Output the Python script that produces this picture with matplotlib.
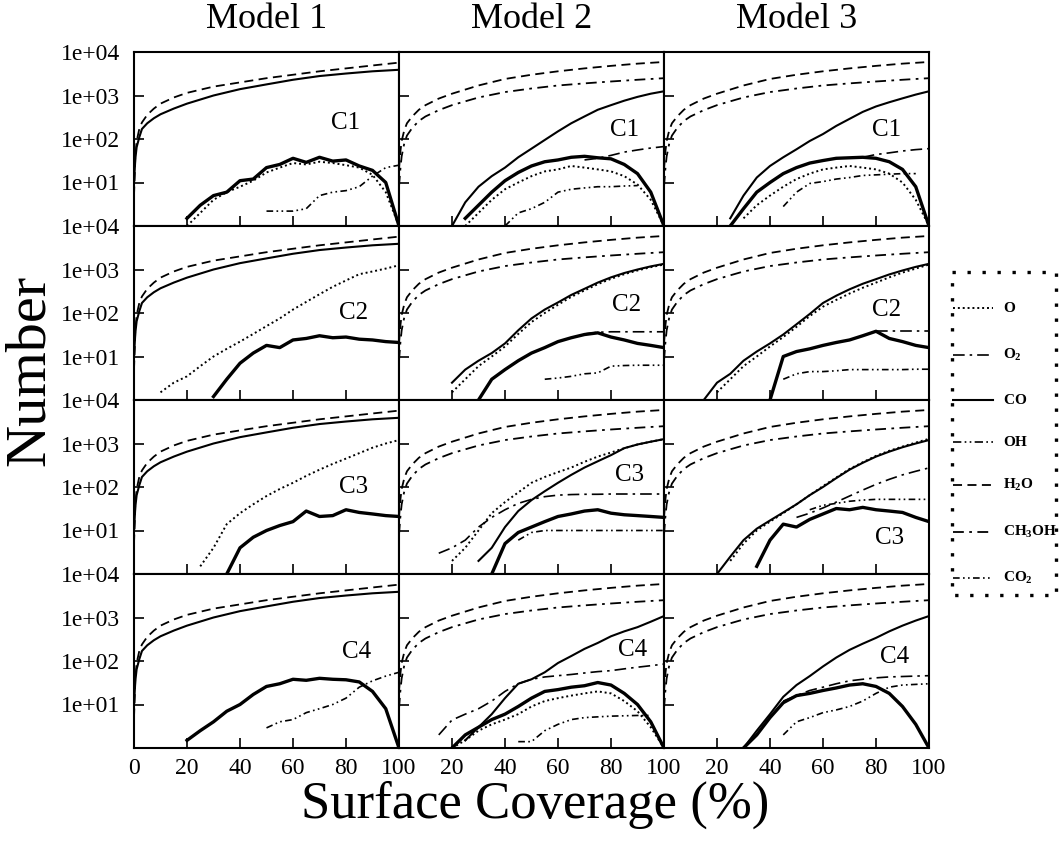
import numpy as np
import matplotlib
matplotlib.use('Agg')
import matplotlib.pyplot as plt

plt.rcParams['font.family'] = ['Liberation Serif', 'DejaVu Serif']
plt.rcParams['mathtext.fontset'] = 'custom'
plt.rcParams['mathtext.rm'] = 'Liberation Serif'
plt.rcParams['mathtext.bf'] = 'Liberation Serif:bold'

# ============================================
# DATA
# ============================================
n = np.nan
MODELS = ['Model 1', 'Model 2', 'Model 3']
CASES = ['C1', 'C2', 'C3', 'C4']
SPECIES = ['O', 'O2', 'CO', 'OH', 'H2O', 'CH3OH', 'CO2']
SPECIES_LABELS = [r'$\mathbf{O}$', r'$\mathbf{O_2}$', r'$\mathbf{CO}$', r'$\mathbf{OH}$',
                  r'$\mathbf{H_2O}$', r'$\mathbf{CH_3OH}$', r'$\mathbf{CO_2}$']
X_TICKS = [0, 20, 40, 60, 80, 100]
Y_TICKS = [1e1, 1e2, 1e3, 1e4]
Y_TICK_LABELS = ['1e+01', '1e+02', '1e+03', '1e+04']

# smooth grid (fast-rising curves)
XS = [0, 0.5, 1, 2, 3, 5, 7.5, 10, 15, 20, 30, 40, 50, 60, 70, 80, 90, 100]
M1_H2O = [5, 40, 90, 170, 240, 360, 500, 650, 900, 1150, 1600, 2000, 2500, 3000, 3600, 4200, 4900, 5700]
M1_CO = [10, 35, 65, 110, 170, 230, 300, 370, 500, 650, 1000, 1400, 1800, 2300, 2800, 3200, 3600, 3900]
M23_H2O = [20, 50, 90, 160, 230, 330, 470, 600, 850, 1100, 1700, 2400, 3000, 3600, 4200, 4800, 5400, 5900]
M23_CH3OH = [8, 20, 40, 80, 120, 180, 260, 330, 460, 600, 900, 1200, 1450, 1700, 1900, 2100, 2300, 2500]

# coarse grid (every 5 %)
NX = [0, 5, 10, 15, 20, 25, 30, 35, 40, 45, 50, 55, 60, 65, 70, 75, 80, 85, 90, 95, 100]

M1C1_OH = [n, n, n, n, 1.5, 3, 5, 6, 11, 12, 22, 26, 36, 29, 38, 31, 33, 24, 19, 10, 1]
M1C1_O = [n, n, n, n, 1, 2, 4, 6, 8, 11, 17, 22, 28, 26, 30, 28, 25, 22, 15, 6, 1]
M1C1_CO2 = [n] * 10 + [2.2, 2.2, 2.2, 2.5, 5, 6, 6.5, 8, 14, 22, 25]

M1C2_O = [n, n, 1.5, 2.5, 3.5, 6, 10, 15, 22, 33, 50, 75, 120, 180, 270, 400, 560, 780, 900, 1050, 1250]
M1C2_OH = [n] * 6 + [1.2, 3, 7, 12, 18, 16, 24, 26, 30, 27, 28, 25, 24, 22, 21]

M1C3_O = [n] * 5 + [1.5, 4, 14, 25, 40, 62, 90, 125, 180, 250, 340, 450, 600, 800, 1000, 1200]
M1C3_OH = [n] * 7 + [1, 4, 7, 10, 13, 16, 28, 21, 22, 30, 26, 24, 22, 21]

M1C4_OH = [n] * 4 + [1.5, 2.5, 4, 7, 10, 17, 26, 30, 38, 36, 40, 38, 37, 33, 20, 8, 1]
M1C4_CO2 = [n] * 10 + [2.9, 4, 4.5, 6.5, 8, 10, 14, 25, 35, 45, 55]

M2C1_CO = [n] * 4 + [1, 3.5, 8, 14, 22, 38, 60, 95, 150, 230, 330, 470, 600, 760, 930, 1100, 1250]
M2C1_OH = [n] * 5 + [1.5, 3, 6, 11, 17, 24, 30, 33, 38, 40, 37, 35, 26, 16, 6, 1]
M2C1_O = [n] * 5 + [1, 2, 4, 7, 10, 14, 18, 20, 24, 22, 20, 18, 14, 9, 4, 1]
M2C1_O2 = [n] * 14 + [33, 36, 42, 50, 56, 62, 67]
M2C1_CO2 = [n] * 8 + [1, 2, 2.5, 3.5, 6, 7, 7.5, 8, 8, 8.3, 8.5, n, n]

M2C2_CO = [n] * 4 + [2.5, 5, 8, 12, 20, 40, 75, 120, 175, 260, 360, 500, 660, 830, 1000, 1180, 1350]
M2C2_O = [n] * 4 + [1.5, 3, 6, 10, 17, 33, 62, 100, 155, 235, 330, 460, 610, 780, 950, 1130, 1300]
M2C2_OH = [n] * 6 + [1, 3, 5, 8, 12, 16, 22, 27, 32, 35, 28, 24, 20, 18, 16]
M2C2_O2 = [n] * 14 + [33, 36, 37, 37, 37, 37, 37]
M2C2_CO2 = [n] * 11 + [3, 3.2, 3.5, 4, 4.2, 6, 6.2, 6.3, 6.3, 6.3]

M2C3_CO = [n] * 6 + [2, 4, 12, 28, 50, 80, 125, 190, 280, 390, 540, 780, 950, 1100, 1260]
M2C3_O = [n] * 4 + [2, 4, 10, 25, 45, 75, 125, 170, 220, 280, 380, 500, 620, 780, 950, 1100, 1260]
M2C3_O2 = [n] * 3 + [3, 4, 6, 12, 20, 30, 42, 52, 60, 65, 67, 68, 68, 69, 69, 69, 69, 69]
M2C3_OH = [n] * 7 + [1, 5, 9, 12, 16, 21, 24, 28, 30, 25, 23, 22, 21, 20]
M2C3_CO2 = [n] * 9 + [6, 9, 10, 10, 10, 10, 10, 10, 10, 10, 10, 10]

M2C4_CO = [n] * 5 + [1.5, 3, 6, 14, 30, 38, 55, 90, 130, 190, 260, 370, 480, 600, 800, 1080]
M2C4_O2 = [n] * 3 + [2, 4.4, 6, 8, 12, 20, 30, 38, 43, 46, 49, 53, 57, 60, 66, 72, 78, 85]
M2C4_OH = [n] * 4 + [1, 2, 3, 4.5, 6, 9, 14, 20, 22, 25, 27, 32, 28, 18, 10, 4, 1]
M2C4_O = [n] * 4 + [1, 1.5, 2.5, 3.5, 4.5, 6, 9, 12, 14, 16, 18, 20, 18, 12, 7, 3, 1]
M2C4_CO2 = [n] * 9 + [1.4, 1.4, 2.5, 3.5, 4.5, 5, 5.2, 5.4, 5.5, 5.6, 5.6, n]

M3C1_CO = [n] * 5 + [1.5, 5, 13, 24, 38, 58, 90, 130, 200, 290, 420, 560, 700, 860, 1050, 1250]
M3C1_OH = [n] * 5 + [1, 2.5, 6, 10, 16, 22, 28, 32, 36, 37, 38, 36, 30, 20, 8, 1]
M3C1_O = [n] * 6 + [1.5, 3, 5, 8, 12, 16, 20, 22, 24, 22, 20, 16, 10, 4, 1]
M3C1_O2 = [n] * 15 + [38, 44, 48, 53, 57, 60]
M3C1_CO2 = [n] * 9 + [2.8, 6, 9.5, 10.5, 12, 13, 14.5, 15, 15.5, 16, 16, n]

M3C2_CO = [n] * 3 + [1, 2.5, 4, 8, 13, 20, 32, 55, 95, 170, 250, 350, 470, 600, 770, 950, 1150, 1350]
M3C2_O = [n] * 4 + [1.5, 3, 6, 10, 17, 28, 48, 85, 140, 200, 280, 380, 500, 660, 850, 1050, 1300]
M3C2_OH = [n] * 8 + [1, 10, 13, 15, 18, 21, 24, 30, 38, 26, 22, 18, 16]
M3C2_O2 = [n] * 16 + [38, 38, 38, 38, 38]
M3C2_CO2 = [n] * 9 + [3, 4, 4.5, 4.5, 4.7, 5, 5, 5, 5, 5, 5.1, 5.1]

M3C3_CO = [n] * 4 + [1, 2.5, 6, 11, 17, 26, 40, 65, 100, 160, 250, 360, 500, 650, 820, 1000, 1200]
M3C3_O = [n] * 5 + [2, 5, 10, 16, 25, 40, 65, 105, 165, 260, 370, 520, 680, 850, 1050, 1280]
M3C3_O2 = [n] * 10 + [20, 25, 33, 45, 62, 85, 115, 150, 190, 230, 275]
M3C3_CO2 = [n] * 11 + [30, 38, 42, 47, 50, 52, 52, 52, 52, 52]
M3C3_OH = [n] * 7 + [1.5, 6, 14, 12, 18, 24, 32, 30, 34, 30, 28, 26, 20, 16]

M3C4_CO = [n] * 6 + [1, 2.5, 6, 15, 28, 45, 75, 120, 180, 250, 340, 480, 650, 850, 1080]
M3C4_O2 = [n] * 9 + [12, 16, 21, 25, 30, 35, 38, 41, 43, 44, 45, 46]
M3C4_CO2 = [n] * 9 + [2, 4, 5, 6.5, 7.5, 9, 12, 18, 25, 28, 29, 30]
M3C4_OH = [n] * 6 + [1, 2, 5, 11, 16, 18, 21, 24, 28, 30, 26, 18, 9, 3.5, 1]

# ============================================
# which curves go in which panel
# ============================================
PANELS = {
    (0, 0): [('H2O', XS, M1_H2O), ('CO', XS, M1_CO), ('CO2', NX, M1C1_CO2), ('O', NX, M1C1_O), ('OH', NX, M1C1_OH)],
    (0, 1): [('H2O', XS, M1_H2O), ('CO', XS, M1_CO), ('O', NX, M1C2_O), ('OH', NX, M1C2_OH)],
    (0, 2): [('H2O', XS, M1_H2O), ('CO', XS, M1_CO), ('O', NX, M1C3_O), ('OH', NX, M1C3_OH)],
    (0, 3): [('H2O', XS, M1_H2O), ('CO', XS, M1_CO), ('CO2', NX, M1C4_CO2), ('OH', NX, M1C4_OH)],
    (1, 0): [('H2O', XS, M23_H2O), ('CH3OH', XS, M23_CH3OH), ('CO', NX, M2C1_CO), ('O2', NX, M2C1_O2),
             ('CO2', NX, M2C1_CO2), ('O', NX, M2C1_O), ('OH', NX, M2C1_OH)],
    (1, 1): [('H2O', XS, M23_H2O), ('CH3OH', XS, M23_CH3OH), ('CO', NX, M2C2_CO), ('O', NX, M2C2_O),
             ('O2', NX, M2C2_O2), ('CO2', NX, M2C2_CO2), ('OH', NX, M2C2_OH)],
    (1, 2): [('H2O', XS, M23_H2O), ('CH3OH', XS, M23_CH3OH), ('CO', NX, M2C3_CO), ('O', NX, M2C3_O),
             ('O2', NX, M2C3_O2), ('CO2', NX, M2C3_CO2), ('OH', NX, M2C3_OH)],
    (1, 3): [('H2O', XS, M23_H2O), ('CH3OH', XS, M23_CH3OH), ('CO', NX, M2C4_CO), ('O2', NX, M2C4_O2),
             ('CO2', NX, M2C4_CO2), ('O', NX, M2C4_O), ('OH', NX, M2C4_OH)],
    (2, 0): [('H2O', XS, M23_H2O), ('CH3OH', XS, M23_CH3OH), ('CO', NX, M3C1_CO), ('O2', NX, M3C1_O2),
             ('CO2', NX, M3C1_CO2), ('O', NX, M3C1_O), ('OH', NX, M3C1_OH)],
    (2, 1): [('H2O', XS, M23_H2O), ('CH3OH', XS, M23_CH3OH), ('CO', NX, M3C2_CO), ('O', NX, M3C2_O),
             ('O2', NX, M3C2_O2), ('CO2', NX, M3C2_CO2), ('OH', NX, M3C2_OH)],
    (2, 2): [('H2O', XS, M23_H2O), ('CH3OH', XS, M23_CH3OH), ('CO', NX, M3C3_CO), ('O', NX, M3C3_O),
             ('O2', NX, M3C3_O2), ('CO2', NX, M3C3_CO2), ('OH', NX, M3C3_OH)],
    (2, 3): [('H2O', XS, M23_H2O), ('CH3OH', XS, M23_CH3OH), ('CO', NX, M3C4_CO), ('O2', NX, M3C4_O2),
             ('CO2', NX, M3C4_CO2), ('OH', NX, M3C4_OH)],
}

# where the "C1".."C4" tag sits: (x, log10 y)
TAG_POS = {
    (0, 0): (80, 2.37), (0, 1): (83, 2.0), (0, 2): (83, 2.0), (0, 3): (84, 2.2),
    (1, 0): (85, 2.2), (1, 1): (86, 2.18), (1, 2): (87, 2.27), (1, 3): (88, 2.25),
    (2, 0): (84, 2.2), (2, 1): (84, 2.07), (2, 2): (85, 0.83), (2, 3): (87, 2.1),
}

STYLES = {
    'O': dict(ls=(0, (1, 1.5)), lw=1.4),
    'O2': dict(ls=(0, (7, 3, 1.5, 3)), lw=1.2),
    'CO': dict(ls='-', lw=1.5),
    'OH': dict(ls=(0, (5, 2, 1, 2, 1, 2)), lw=1.2),
    'H2O': dict(ls=(0, (5, 3)), lw=1.3),
    'CH3OH': dict(ls=(0, (6, 3, 1.5, 3)), lw=1.3),
    'CO2': dict(ls=(0, (4, 2, 1, 2, 1, 2)), lw=1.2),
}

# ============================================
# FIGURE
# ============================================
W, H = 1060, 841
fig = plt.figure(figsize=(W / 100, H / 100), dpi=100)

left, top = 134, 52
pw, ph = 265, 174

for c in range(3):
    for r in range(4):
        ax = fig.add_axes([(left + c * pw) / W, 1 - (top + (r + 1) * ph) / H, pw / W, ph / H])
        for sp, xv, yv in PANELS[(c, r)]:
            st = STYLES[sp]
            if sp == 'OH':
                # noisy series drawn as a heavy band
                ax.plot(xv, yv, color='black', lw=2.4, ls='-')
            else:
                ax.plot(xv, yv, color='black', lw=st['lw'], ls=st['ls'])
        ax.set_yscale('log')
        ax.set_xlim(0, 100)
        ax.set_ylim(1, 1e4)
        ax.yaxis.set_minor_locator(matplotlib.ticker.NullLocator())
        ax.set_yticks(Y_TICKS)
        ax.set_xticks(X_TICKS)
        ax.tick_params(direction='in', length=7, width=1.2, labelsize=17, top=False, right=False)
        ax.tick_params(axis='y', pad=10)
        ax.tick_params(axis='x', pad=7)
        for s in ax.spines.values():
            s.set_linewidth(1.5)
        if c == 0:
            ax.set_yticklabels(Y_TICK_LABELS)
        else:
            ax.set_yticklabels([])
        if r == 3:
            labs = [str(v) for v in X_TICKS]
            if c > 0:
                labs[0] = ''
            ax.set_xticklabels(labs)
        else:
            ax.set_xticklabels([])
        tx, ty = TAG_POS[(c, r)]
        ax.text(tx, 10 ** ty, CASES[r], fontsize=18, ha='center', va='center')

    fig.text((left + c * pw + pw / 2) / W, 1 - 20 / H, MODELS[c], fontsize=26, ha='center', va='center')

fig.text(30 / W, 1 - 370 / H, 'Number', fontsize=42, rotation=90, ha='center', va='center')
fig.text(535 / W, 1 - 805 / H, 'Surface Coverage (%)', fontsize=38, ha='center', va='center')

# ============================================
# LEGEND (hand-made, dotted frame)
# ============================================
lx0, ly0, lx1, ly1 = 952, 272, 1056, 595
lax = fig.add_axes([lx0 / W, 1 - ly1 / H, (lx1 - lx0) / W, (ly1 - ly0) / H])
lax.set_xlim(lx0, lx1)
lax.set_ylim(ly1, ly0)
lax.set_xticks([])
lax.set_yticks([])
lax.axis('off')
# dotted frame drawn as square dots
frame_x = [lx0, lx1, lx1, lx0, lx0]
frame_y = [ly0, ly0, ly1, ly1, ly0]
lax.plot(frame_x, frame_y, color='black', lw=2.4, ls=(0, (1, 3.5)),
         dash_capstyle='butt', clip_on=False)
entry_y = [308, 355, 400, 442, 485, 532, 578]
for sp, lab, yy in zip(SPECIES, SPECIES_LABELS, entry_y):
    st = STYLES[sp]
    lax.plot([953, 993], [yy, yy], color='black', lw=st['lw'], ls=st['ls'])
    lax.text(1003, yy, lab, fontsize=11, ha='left', va='center', clip_on=False)

fig.savefig('out.png', dpi=100)
